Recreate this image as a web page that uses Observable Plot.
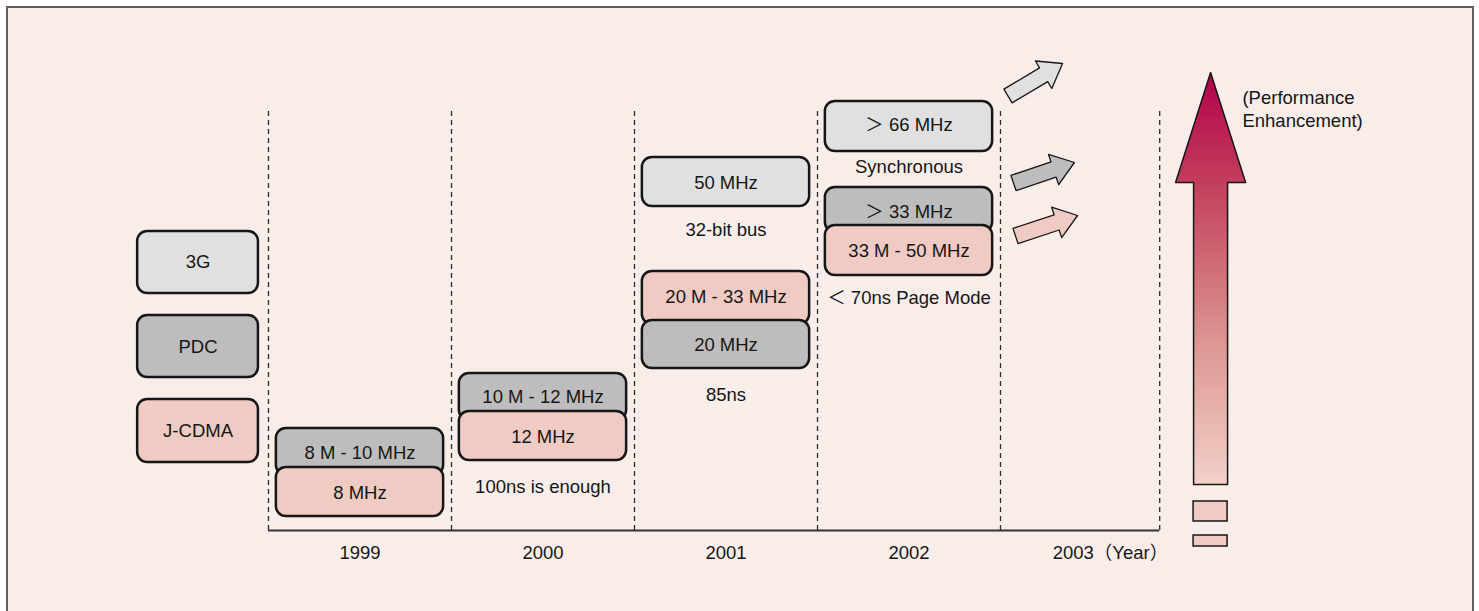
<!DOCTYPE html>
<html><head><meta charset="utf-8">
<script src="https://cdn.jsdelivr.net/npm/d3@7"></script>
<script src="https://cdn.jsdelivr.net/npm/@observablehq/plot@0.6"></script>
<style>
html,body{margin:0;padding:0;background:#fff;}
#wrap{position:relative;width:1479px;height:611px;overflow:hidden;}
#frame{position:absolute;left:6px;top:6px;width:1464px;height:640px;background:#F8EDE9;border:2px solid #5e5e5e;border-bottom:none;}
#chart{position:absolute;left:0;top:0;}
</style></head><body><div id="wrap"><div id="frame"></div><div id="chart"></div></div>
<script>
// ---------- data ----------
const yearLabels = ["1999", "2000", "2001", "2002"];
const yearLabelX = [1999, 2000, 2001, 2002];
const lastYearLabel = "2003（Year）";
const lastYearLabelX = 2002.785;
const columnEdges = [1998.5, 1999.5, 2000.5, 2001.5, 2002.5, 2003.37];
const columnTop = 42.2;

const systems = ["3G", "PDC", "J-CDMA"];
const legendCenter = 1998.115;
const legendTop = [29.9, 21.5, 13.1];
const legendBottom = [23.7, 15.3, 6.8];
const legendTextLevel = [26.8, 18.3, 9.9];

const boxYear = [1999, 1999, 2000, 2000, 2001, 2001, 2001, 2002, 2002, 2002];
const boxLabel = ["8 M - 10 MHz", "8 MHz", "10 M - 12 MHz", "12 MHz", "50 MHz", "20 M - 33 MHz", "20 MHz", "＞ 66 MHz", "＞ 33 MHz", "33 M - 50 MHz"];
const boxSystem = ["PDC", "J-CDMA", "PDC", "J-CDMA", "3G", "J-CDMA", "PDC", "3G", "PDC", "J-CDMA"];
const boxTop = [10.2, 6.3, 15.7, 11.9, 37.3, 25.9, 21.0, 42.9, 34.3, 30.5];
const boxBottom = [5.5, 1.4, 11.0, 7.0, 32.4, 20.6, 16.2, 37.9, 29.8, 25.5];
const boxTextLevel = [7.7, 3.7, 13.3, 9.3, 34.7, 23.3, 18.5, 40.5, 31.8, 27.9];

const noteYear = [2000, 2001, 2001, 2002, 2002];
const noteText = ["100ns is enough", "32-bit bus", "85ns", "Synchronous", "＜ 70ns Page Mode"];
const noteLevel = [4.3, 30.0, 13.5, 36.3, 23.2];

const trendSystem = ["3G", "PDC", "J-CDMA"];
const trendFrom = [[2002.541, 43.45], [2002.571, 34.75], [2002.582, 29.45]];
const trendTo = [[2002.839, 46.7], [2002.904, 36.8], [2002.921, 31.5]];

const perfX = 2003.648;
const perfTip = 45.8, perfHead = 34.8, perfBase = 4.6;
const perfBlocks = [[2.9, 0.9], [-0.5, -1.6]];
const perfLabel = "(Performance\nEnhancement)";
const perfLabelX = 2003.822, perfLabelLevel = 42.25;

// ---------- layout ----------
const W = 1479, H = 611;
const mL = 268, mR = 296, mT = 0, mB = 81;
const xDomain = [1998.5, 2003.5], yDomain = [0, 53];
const xs = d3.scaleLinear(xDomain, [mL, W - mR]);
const ys = d3.scaleLinear(yDomain, [H - mB, mT]);
const fills = ["#E0E0E0", "#BDBDBD", "#EFCBC3"];
const ink = "#161616";
const font = "'Liberation Sans', Arial, Helvetica, 'Noto Sans CJK JP', sans-serif";

// ---------- tables ----------
const legend = systems.map((s, i) => ({label: s, system: s, x1: legendCenter - 0.33, x2: legendCenter + 0.33, top: legendTop[i], bottom: legendBottom[i], tl: legendTextLevel[i], x: legendCenter}));
const boxes = boxYear.map((y, i) => ({label: boxLabel[i], system: boxSystem[i], x1: y - 0.457, x2: y + 0.457, top: boxTop[i], bottom: boxBottom[i], tl: boxTextLevel[i], x: y}));
const allBoxes = legend.concat(boxes);
const notes = noteYear.map((y, i) => ({x: y, y: noteLevel[i], text: noteText[i]}));

function blockArrow(from, to, sw, hw, hl) {
  const tx = xs(from[0]), ty = ys(from[1]), hx = xs(to[0]), hy = ys(to[1]);
  const len = Math.hypot(hx - tx, hy - ty);
  const ux = (hx - tx) / len, uy = (hy - ty) / len;
  const nx = -uy, ny = ux;
  const kx = hx - ux * hl, ky = hy - uy * hl;
  const pts = [
    [tx + nx * sw / 2, ty + ny * sw / 2],
    [kx + nx * sw / 2, ky + ny * sw / 2],
    [kx + nx * hw / 2, ky + ny * hw / 2],
    [hx, hy],
    [kx - nx * hw / 2, ky - ny * hw / 2],
    [kx - nx * sw / 2, ky - ny * sw / 2],
    [tx - nx * sw / 2, ty - ny * sw / 2]
  ];
  return pts.map(([px, py]) => ({x: xs.invert(px), y: ys.invert(py)}));
}
const trendMarks = trendSystem.map((s, i) => Plot.line(blockArrow(trendFrom[i], trendTo[i], 16, 32, 22), {
  x: "x", y: "y", curve: "linear-closed", fill: fills[systems.indexOf(s)], stroke: ink, strokeWidth: 1.3
}));

const cx = xs(perfX);
const hwHead = 35, hwShaft = 17;
const perfShape = [
  [cx, ys(perfTip)], [cx + hwHead, ys(perfHead)], [cx + hwShaft, ys(perfHead)], [cx + hwShaft, ys(perfBase)],
  [cx - hwShaft, ys(perfBase)], [cx - hwShaft, ys(perfHead)], [cx - hwHead, ys(perfHead)]
].map(([px, py]) => ({x: xs.invert(px), y: ys.invert(py)}));
const perfRects = perfBlocks.map(([t, b]) => ({x1: xs.invert(cx - hwShaft), x2: xs.invert(cx + hwShaft), top: t, bottom: b}));

const chart = Plot.plot({
  width: W, height: H,
  marginLeft: mL, marginRight: mR, marginTop: mT, marginBottom: mB,
  x: {domain: xDomain, axis: null},
  y: {domain: yDomain, axis: null},
  color: {domain: systems, range: fills},
  style: {background: "transparent", fontFamily: font, fontSize: "18.5px", color: ink, overflow: "visible"},
  marks: [
    Plot.ruleX(columnEdges, {x: d => d, y1: 0, y2: columnTop, stroke: "#2a2a2a", strokeWidth: 1.3, strokeDasharray: "5,4"}),
    Plot.ruleY([0], {x1: columnEdges[0], x2: columnEdges[columnEdges.length - 1], stroke: "#333", strokeWidth: 2}),
    Plot.rect(allBoxes, {x1: "x1", x2: "x2", y1: "bottom", y2: "top", fill: "system", stroke: ink, strokeWidth: 2.5, rx: 10}),
    Plot.text(allBoxes, {x: "x", y: "tl", text: "label", fill: ink}),
    Plot.text(notes, {x: "x", y: "y", text: "text", fill: ink}),
    Plot.text(yearLabels, {x: (d, i) => yearLabelX[i], y: -2.3, text: d => d, fill: ink}),
    Plot.text([lastYearLabel], {x: lastYearLabelX, y: -2.3, text: d => d, textAnchor: "start", fill: ink}),
    ...trendMarks,
    Plot.line(perfShape, {x: "x", y: "y", curve: "linear-closed", fill: "url(#perfGrad)", stroke: ink, strokeWidth: 1.5}),
    Plot.rect(perfRects, {x1: "x1", x2: "x2", y1: "bottom", y2: "top", fill: fills[2], stroke: ink, strokeWidth: 1.5}),
    Plot.text([perfLabel], {x: perfLabelX, y: perfLabelLevel, text: d => d, textAnchor: "start", lineHeight: 1.25, fill: ink})
  ]
});

const defs = d3.select(chart).insert("defs", ":first-child");
const g = defs.append("linearGradient").attr("id", "perfGrad").attr("x1", 0).attr("y1", 0).attr("x2", 0).attr("y2", 1);
g.append("stop").attr("offset", "0").attr("stop-color", "#B3004C");
g.append("stop").attr("offset", "0.3").attr("stop-color", "#C4465E");
g.append("stop").attr("offset", "0.65").attr("stop-color", "#DC9592");
g.append("stop").attr("offset", "1").attr("stop-color", "#F2D0C8");

document.getElementById("chart").appendChild(chart);
</script></body></html>
